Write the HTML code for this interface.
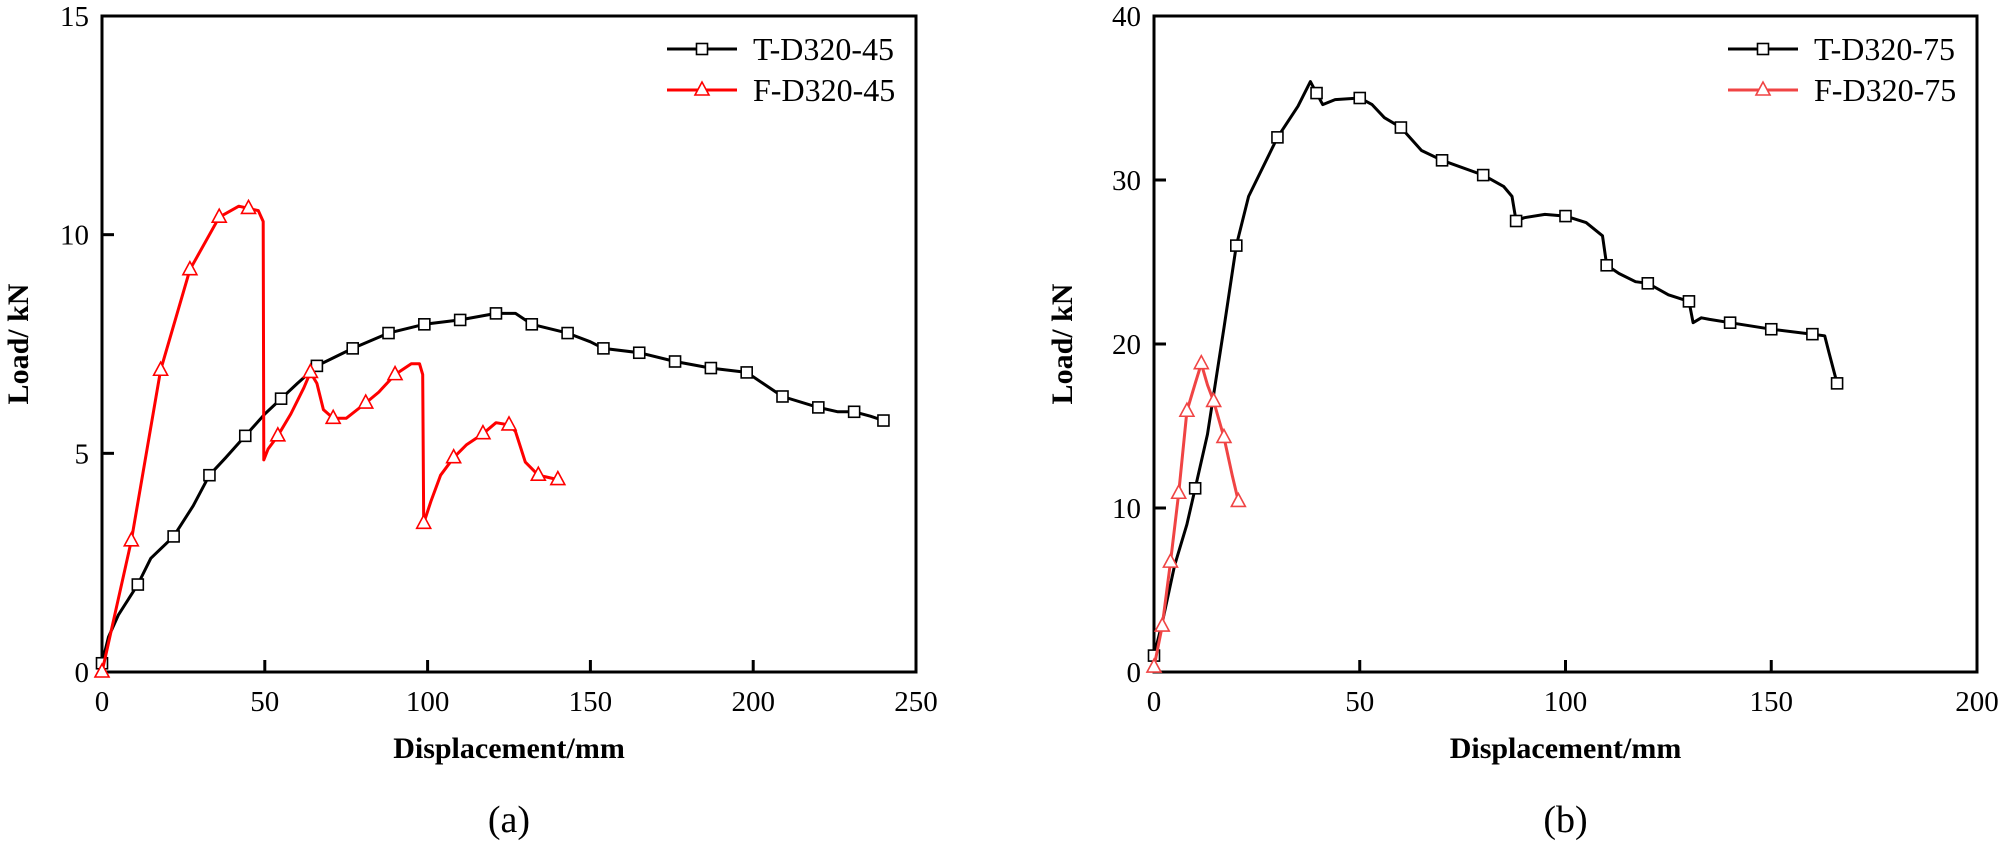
<!DOCTYPE html>
<html><head><meta charset="utf-8"><style>
html,body{margin:0;padding:0;background:#fff;}
svg{display:block;font-family:"Liberation Serif","Times New Roman",serif;}
svg text{font-family:"Liberation Serif","Times New Roman",serif;}
</style></head><body>
<svg id="s" width="2000" height="848" viewBox="0 0 2000 848" xmlns="http://www.w3.org/2000/svg" font-family="Liberation Serif, serif"></svg>
<script>
const S=document.getElementById('s');let h='';
function plot(o){
 const {x0,x1,y0,y1,xmax,ymax,xt,yt}=o;
 const X=v=>x0+v/xmax*(x1-x0), Y=v=>y0-v/ymax*(y0-y1);
 h+=`<rect x="${x0}" y="${y1}" width="${x1-x0}" height="${y0-y1}" fill="none" stroke="#000" stroke-width="3"/>`;
 xt.forEach(v=>{const x=X(v);h+=`<line x1="${x}" y1="${y0}" x2="${x}" y2="${y0-12}" stroke="#000" stroke-width="3"/><text x="${x}" y="711" font-size="29" text-anchor="middle">${v}</text>`;});
 yt.forEach(v=>{const y=Y(v);h+=`<line x1="${x0}" y1="${y}" x2="${x0+12}" y2="${y}" stroke="#000" stroke-width="3"/><text x="${x0-13}" y="${y+10}" font-size="29" text-anchor="end">${v}</text>`;});
 h+=`<text x="${(x0+x1)/2}" y="758" font-size="30" font-weight="bold" text-anchor="middle">Displacement/mm</text>`;
 h+=`<text transform="translate(${o.ylx},${(y0+y1)/2}) rotate(-90)" font-size="30" font-weight="bold" text-anchor="middle">${o.ylab}</text>`;
 h+=`<text x="${(x0+x1)/2}" y="832" font-size="38" text-anchor="middle">${o.cap}</text>`;
 o.series.forEach((s,i)=>{
  h+=`<polyline fill="none" stroke="${s.c}" stroke-width="3" stroke-linejoin="round" points="${s.d.map(p=>X(p[0]).toFixed(1)+','+Y(p[1]).toFixed(1)).join(' ')}"/>`;
  s.m.forEach(p=>h+=mk(s.t,X(p[0]),Y(p[1]),s.c));
  const ly=[49,90][i], lx=x1-249;
  h+=`<line x1="${lx}" y1="${ly}" x2="${lx+70}" y2="${ly}" stroke="${s.c}" stroke-width="3"/>`+mk(s.t,lx+35,ly,s.c);
  h+=`<text x="${lx+86}" y="${ly+11}" font-size="32">${s.n}</text>`;
 });
}
function mk(t,x,y,c){
 if(t=='s')return `<rect x="${x-5.5}" y="${y-5.5}" width="11" height="11" fill="#fff" stroke="${c}" stroke-width="1.6"/>`;
 return `<polygon points="${x},${y-8} ${x-7},${y+5} ${x+7},${y+5}" fill="#fff" stroke="${c}" stroke-width="1.6"/>`;
}
function pick(d,xs){return xs.map(x=>{let b=d[0];d.forEach(p=>{if(Math.abs(p[0]-x)<Math.abs(b[0]-x))b=p;});return b;});}
const T45=[[0,0.2],[2,0.8],[5,1.3],[11,2.0],[15,2.6],[22,3.1],[28,3.8],[33,4.5],[38,4.9],[44,5.4],[50,5.9],[55,6.25],[60,6.6],[66,7.0],[77,7.4],[88,7.75],[99,7.95],[110,8.05],[121,8.2],[127,8.2],[132,7.95],[143,7.75],[150,7.55],[154,7.4],[165,7.3],[176,7.1],[187,6.95],[198,6.85],[203,6.6],[209,6.3],[220,6.05],[226,5.95],[231,5.95],[236,5.85],[240,5.75]];
const F45=[[0,0],[9,3.0],[18,6.9],[27,9.2],[36,10.4],[42,10.65],[45,10.6],[48,10.55],[49.5,10.3],[49.7,4.85],[51,5.1],[54,5.4],[58,5.9],[62,6.5],[64,6.85],[66,6.6],[68,6.0],[71,5.8],[75,5.8],[81,6.15],[85,6.4],[90,6.8],[95,7.05],[97.5,7.05],[98.5,6.8],[98.8,3.4],[101,3.9],[104,4.5],[108,4.9],[112,5.2],[117,5.45],[121,5.7],[125,5.65],[127,5.5],[130,4.8],[134,4.5],[137,4.45],[140,4.4]];
const T75=[[0,1.0],[2,3],[5,6.5],[8,9],[10,11.2],[13,14.5],[17,21],[20,26],[23,29],[30,32.6],[35,34.5],[38,36],[39.5,35.3],[41,34.6],[44,34.9],[50,35],[53,34.6],[56,33.8],[60,33.2],[65,31.8],[70,31.2],[80,30.3],[85,29.6],[87,29],[88,27.5],[90,27.7],[95,27.9],[100,27.8],[105,27.4],[109,26.6],[110,24.8],[113,24.3],[117,23.8],[120,23.7],[125,23],[130,22.6],[131,21.3],[133,21.6],[135,21.5],[140,21.3],[150,20.9],[160,20.6],[163,20.5],[164,19.5],[166,17.6]];
const F75=[[0,0.3],[2,2.8],[4,6.7],[6,10.9],[8,15.9],[10,17.6],[11.5,18.8],[13,17.5],[14.5,16.5],[17,14.3],[19,12],[20.5,10.4]];
plot({x0:102,x1:916,y0:672,y1:16,xmax:250,ymax:15,xt:[0,50,100,150,200,250],yt:[0,5,10,15],ylx:28,ylab:"Load/ kN",cap:"(a)",
 series:[{n:"T-D320-45",c:"#000",t:"s",d:T45,m:pick(T45,[0,11,22,33,44,55,66,77,88,99,110,121,132,143,154,165,176,187,198,209,220,231,240])},
 {n:"F-D320-45",c:"#f00",t:"t",d:F45,m:pick(F45,[0,9,18,27,36,45,54,64,71,81,90,98.8,108,117,125,134,140])}]});
plot({x0:1154,x1:1977,y0:672,y1:16,xmax:200,ymax:40,xt:[0,50,100,150,200],yt:[0,10,20,30,40],ylx:1072,ylab:"Load/ kN",cap:"(b)",
 series:[{n:"T-D320-75",c:"#000",t:"s",d:T75,m:pick(T75,[0,10,20,30,40,50,60,70,80,88,100,110,120,130,140,150,160,166])},
 {n:"F-D320-75",c:"#f04444",t:"t",d:F75,m:pick(F75,[0,2,4,6,8,11.5,14.5,17,20.5])}]});
S.innerHTML=h;
</script>
</body></html>
